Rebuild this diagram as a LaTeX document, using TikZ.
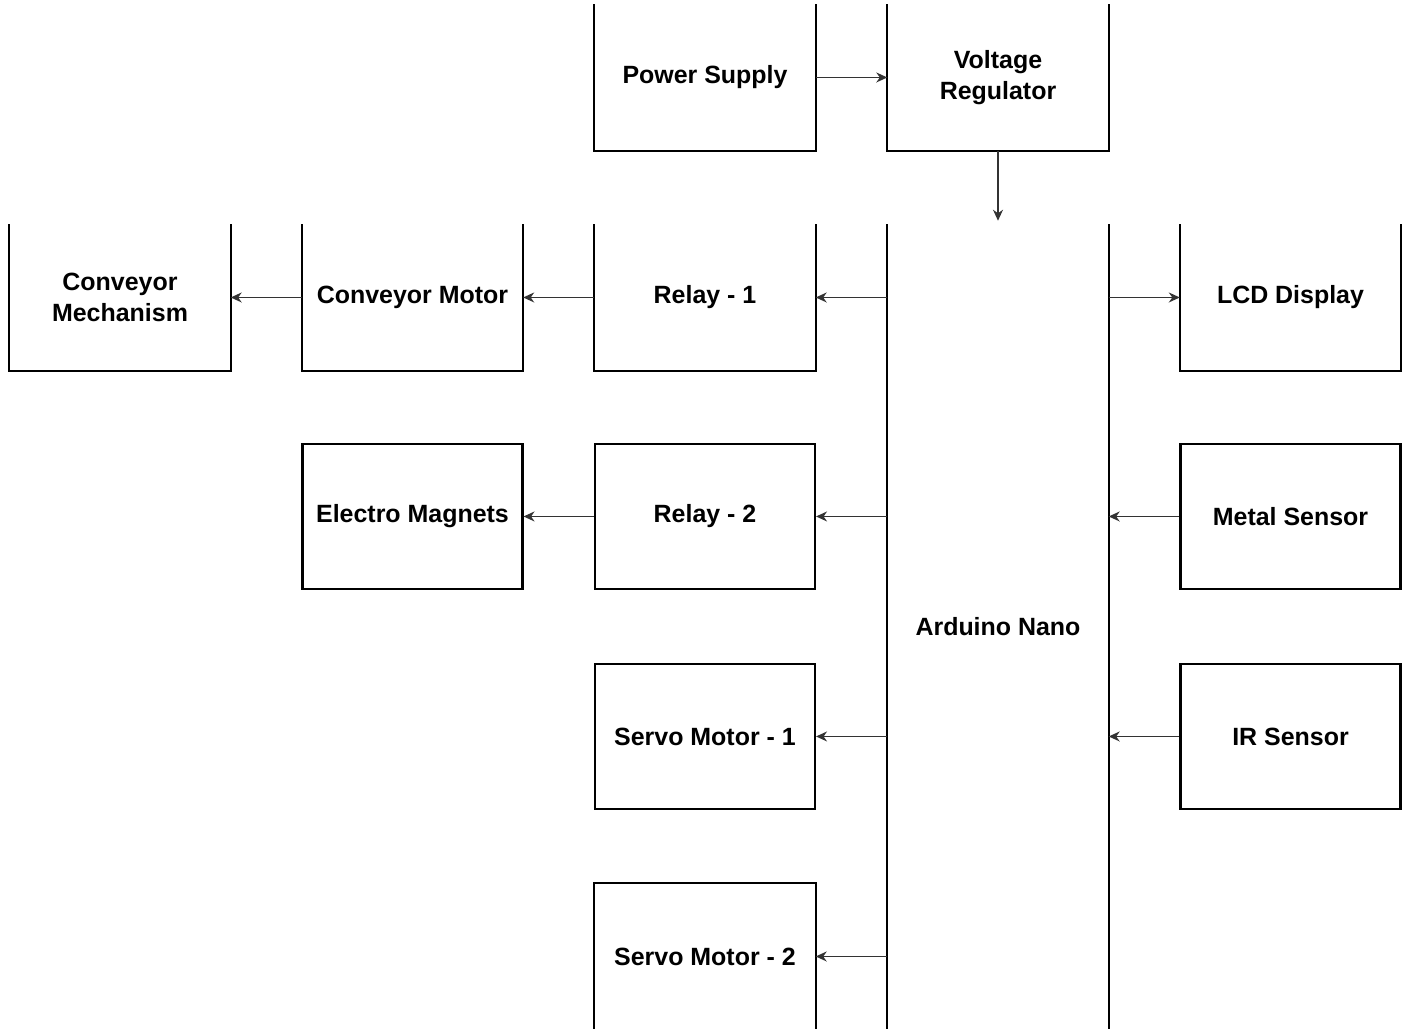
\documentclass[tikz,border=0pt]{standalone}
\usepackage{fontspec}
\setmainfont{Liberation Sans}
\usepackage{tikz}
\usetikzlibrary{arrows.meta,positioning}
% box sides only, the top edge left open
\newcommand{\opentop}[1]{\draw[boxline] (#1.north west) -- (#1.south west) -- (#1.south east) -- (#1.north east);}
\newcommand{\openbot}[1]{\draw[boxline] (#1.south west) -- (#1.north west) -- (#1.north east) -- (#1.south east);}
\tikzset{
  boxline/.style={line width=0.6pt},
  blk/.style={minimum width=2.2cm, minimum height=1.45cm, inner sep=0pt, align=center,
    font=\fontsize{7.1}{8.8}\selectfont\bfseries},
  fullblk/.style={blk, draw, boxline},
  link/.style={-{Stealth[length=1.1mm,width=1mm,inset=0.35mm]}, line width=0.4pt, black!80}
}
\begin{document}
\begin{tikzpicture}
\useasboundingbox (0,0) rectangle (14.08,10.29);
%top row
\node[blk] (ps) at (7.05,9.515) {Power Supply}; \opentop{ps}
\node[blk] (vr) at (9.98,9.515) {Voltage\\Regulator}; \opentop{vr}
%controller, runs off the bottom
\node[blk, minimum height=8.04cm] (ard) at (9.98,4.02) {Arduino Nano};
\draw[boxline] (ard.north west) -- (ard.south west); \draw[boxline] (ard.north east) -- (ard.south east);
%second row
\node[blk] (cm) at (1.2,7.315) {Conveyor\\Mechanism}; \opentop{cm}
\node[blk] (cmot) at (4.125,7.315) {Conveyor Motor}; \opentop{cmot}
\node[blk] (r1) at (7.05,7.315) {Relay - 1}; \opentop{r1}
\node[blk] (lcd) at (12.905,7.315) {LCD Display}; \opentop{lcd}
%third row
\node[fullblk] (em) at (4.125,5.125) {Electro Magnets};
\node[fullblk] (r2) at (7.05,5.125) {Relay - 2};
\node[fullblk] (ms) at (12.905,5.125) {Metal Sensor};
%fourth row
\node[fullblk] (sm1) at (7.05,2.925) {Servo Motor - 1};
\node[fullblk] (ir) at (12.905,2.925) {IR Sensor};
%last row, bottom edge off the page
\node[blk] (sm2) at (7.05,0.725) {Servo Motor - 2}; \openbot{sm2}
%power path
\draw[link] (ps.east) -- (vr.west);
\draw[link, shorten >=1pt] (vr.south) -- (ard.north);
%outputs
\draw[link] (ard.west |- r1) -- (r1.east);
\draw[link] (r1.west) -- (cmot.east);
\draw[link] (cmot.west) -- (cm.east);
\draw[link] (ard.west |- r2) -- (r2.east);
\draw[link] (r2.west) -- (em.east);
\draw[link] (ard.west |- sm1) -- (sm1.east);
\draw[link] (ard.west |- sm2) -- (sm2.east);
\draw[link] (ard.east |- lcd) -- (lcd.west);
%inputs
\draw[link] (ms.west) -- (ard.east |- ms);
\draw[link] (ir.west) -- (ard.east |- ir);
\end{tikzpicture}
\end{document}
